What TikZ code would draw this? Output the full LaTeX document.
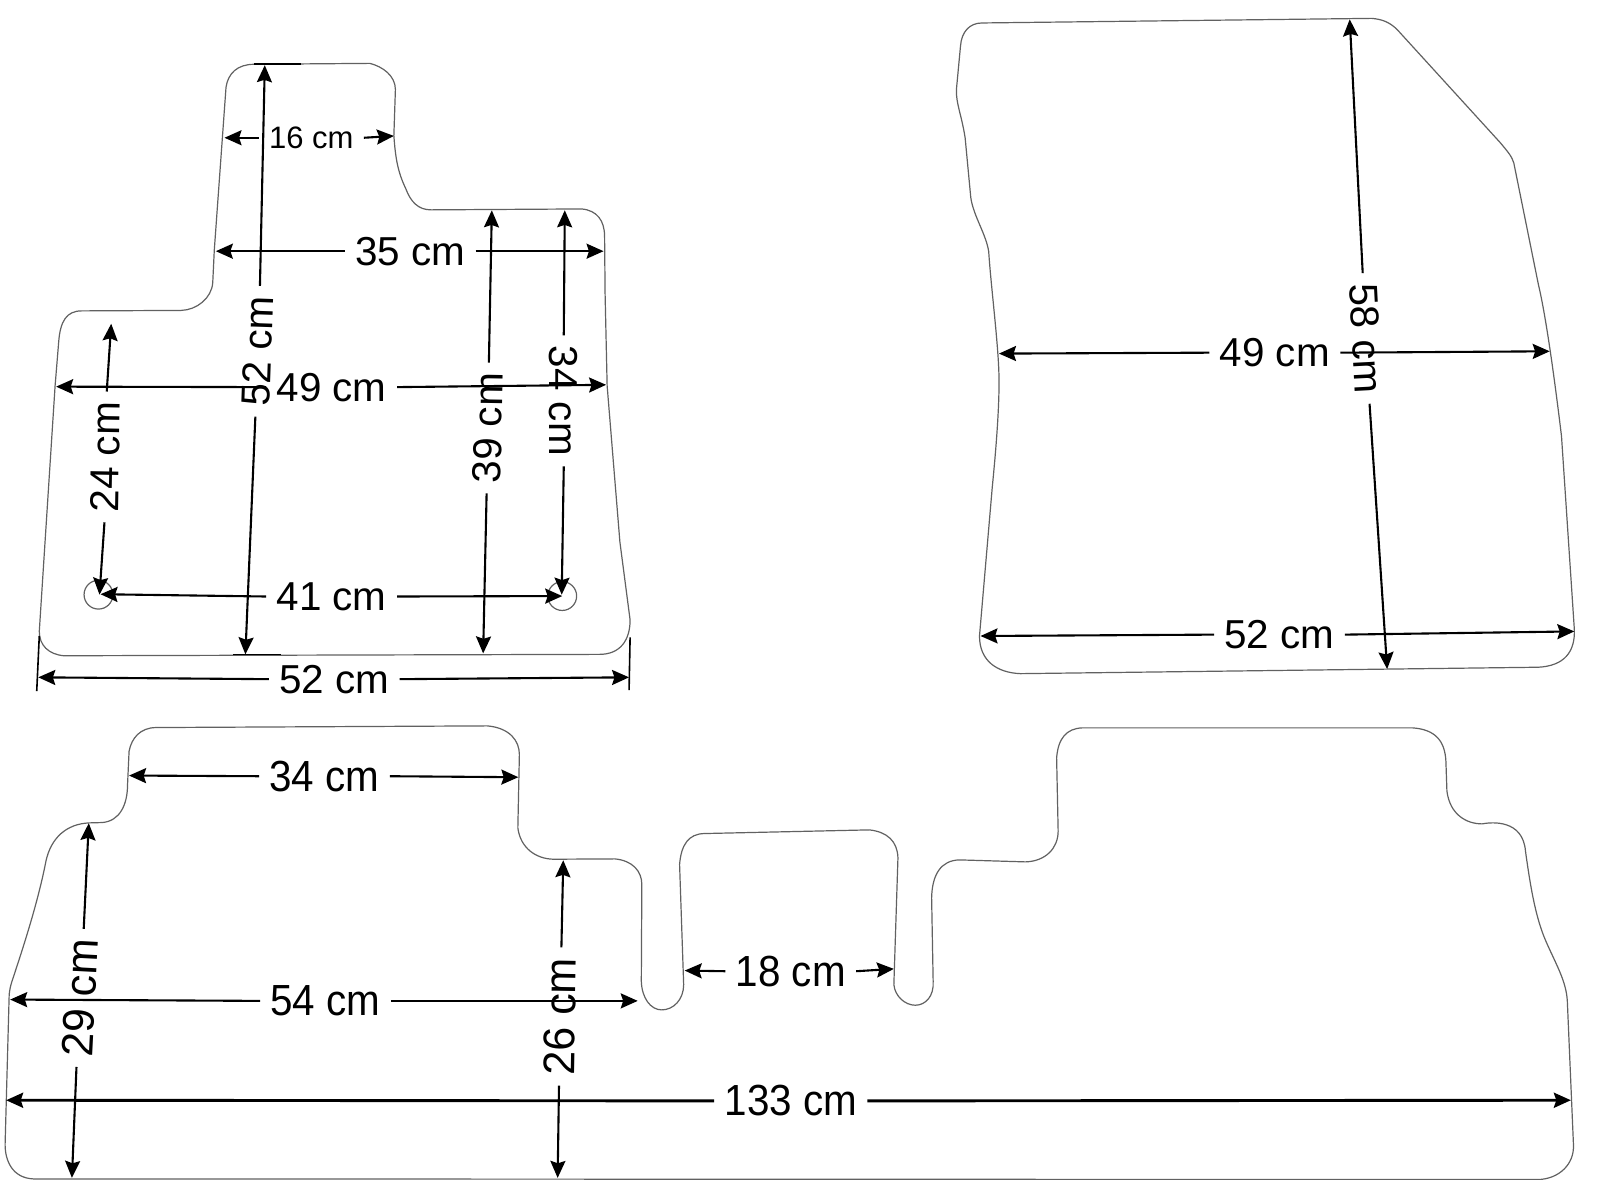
\documentclass[tikz,border=0pt]{standalone}
\usepackage{fontspec}
\usepackage{graphicx}
\setmainfont{Liberation Sans}
\usetikzlibrary{arrows.meta}
\newcommand{\flatlabel}[1]{\scalebox{1.02}[1.1]{#1}}
\newcommand{\uplabel}[1]{\scalebox{1.09}[1.12]{#1}}
\tikzset{
  outline/.style={draw=black!62,line width=0.6pt,line join=round},
  dimline/.style={draw=black,line width=1.05pt,-{Stealth[length=8.5pt,width=7.5pt,inset=1.2pt]}},
  dimbold/.style={dimline,line width=1.45pt},
  tickline/.style={draw=black,line width=0.8pt},
  dimlabel/.style={inner xsep=5pt,inner ysep=0pt,font=\fontsize{20.2}{21}\selectfont},
  lowlabel/.style={inner xsep=5pt,inner ysep=0pt,font=\fontsize{19.8}{20}\selectfont},
  smalllabel/.style={dimlabel,font=\fontsize{15.5}{16}\selectfont},
  za/.style={x=0.2551pt,y=-0.2296pt},
  zb/.style={x=0.2564pt,y=-0.2296pt,shift={(400pt,0pt)}},
  zc/.style={x=0.2551pt,y=-0.16667pt,shift={(0pt,-350.6pt)}}
}
\begin{document}
\begin{tikzpicture}[x=0.5pt,y=-0.5pt]
\useasboundingbox (0,0) rectangle (1604,1179);
% ---------- top-left mat ----------
\begin{scope}[za]
\path[outline] (498,140) -- (725,138) .. controls (750,145) and (775,165) .. (775,195)
  -- (772,295) .. controls (775,345) and (780,375) .. (795,410)
  .. controls (805,440) and (820,457) .. (845,457) -- (1140,455)
  .. controls (1170,458) and (1185,480) .. (1185,515) -- (1186,640) -- (1190,840) -- (1215,1180) -- (1235,1350)
  .. controls (1235,1395) and (1215,1425) .. (1175,1425) -- (125,1428)
  .. controls (95,1425) and (77,1405) .. (77,1375) -- (108,840) -- (115,745)
  .. controls (118,700) and (130,677) .. (160,677) -- (355,676)
  .. controls (385,675) and (415,650) .. (417,615) -- (420,545) -- (443,190)
  .. controls (447,160) and (465,140) .. (498,140) -- cycle;
\path[outline] (193,1295) circle[radius=7.2pt];
\path[outline] (1102,1298) circle[radius=7.2pt];
\node[dimlabel,rotate=88] (tlh) at (505,765) {52 cm};
\node[smalllabel] (tls) at (610,300) {16 cm};
\node[dimlabel] (tlm) at (804,547) {35 cm};
\node[dimlabel,rotate=89] (tlr) at (956,932) {39 cm};
\node[dimlabel,rotate=-90] (tlq) at (1105,873) {34 cm};
\node[dimlabel] (tlw) at (650,843) {49 cm};
\node[dimlabel,rotate=89] (tlp) at (207,995) {24 cm};
\node[dimlabel] (tlb) at (650,1299) {41 cm};
\node[dimlabel] (tlf) at (655,1479) {52 cm};
\coordinate (a1) at (519,142); \coordinate (a2) at (481,1425);
\coordinate (a3) at (440,300); \coordinate (a4) at (772,296);
\coordinate (a5) at (423,547); \coordinate (a6) at (1183,547);
\coordinate (a7) at (964,458); \coordinate (a8) at (947,1423);
\coordinate (a9) at (1107,458); \coordinate (a10) at (1101,1295);
\coordinate (a11) at (110,842); \coordinate (a12) at (1188,838);
\coordinate (a13) at (218,705); \coordinate (a14) at (195,1295);
\coordinate (a15) at (197,1294); \coordinate (a16) at (1102,1298);
\coordinate (a17) at (75,1475); \coordinate (a18) at (1233,1475);
\coordinate (t1) at (498,140); \coordinate (t2) at (590,140);
\coordinate (t3) at (457,1425); \coordinate (t4) at (550,1425);
\coordinate (t5) at (77,1385); \coordinate (t6) at (72,1505);
\coordinate (t7) at (1235,1388); \coordinate (t8) at (1233,1503);
\end{scope}
\path[dimline] (tlh.east) -- (a1);
\path[dimline] (tlh.west) -- (a2);
\path[dimline] (tls.west) -- (a3);
\path[dimline] (tls.east) -- (a4);
\path[dimline] (tlm.west) -- (a5);
\path[dimline] (tlm.east) -- (a6);
\path[dimline] (tlr.east) -- (a7);
\path[dimline] (tlr.west) -- (a8);
\path[dimline] (tlq.west) -- (a9);
\path[dimline] (tlq.east) -- (a10);
\path[dimline] (tlw.west) -- (a11);
\path[dimline] (tlw.east) -- (a12);
\path[dimline] (tlp.east) -- (a13);
\path[dimline] (tlp.west) -- (a14);
\path[dimline] (tlb.west) -- (a15);
\path[dimline] (tlb.east) -- (a16);
\path[dimline] (tlf.west) -- (a17);
\path[dimline] (tlf.east) -- (a18);
\path[tickline] (t1) -- (t2);
\path[tickline] (t3) -- (t4);
\path[tickline] (t5) -- (t6);
\path[tickline] (t7) -- (t8);
% ---------- top-right mat ----------
\begin{scope}[zb]
\path[outline] (355,50) -- (1115,40) .. controls (1135,42) and (1150,48) .. (1165,65)
  -- (1365,310) .. controls (1380,330) and (1388,340) .. (1392,355)
  -- (1440,620) .. controls (1455,690) and (1472,830) .. (1485,950) -- (1510,1370)
  .. controls (1512,1420) and (1490,1450) .. (1440,1453) -- (430,1467)
  .. controls (385,1465) and (350,1440) .. (350,1385)
  -- (375,1060) .. controls (383,970) and (389,880) .. (388,820)
  .. controls (387,750) and (372,620) .. (368,548)
  .. controls (363,510) and (338,470) .. (333,430)
  -- (322,300) .. controls (315,250) and (304,225) .. (305,195)
  -- (313,100) .. controls (315,70) and (330,50) .. (355,50) -- cycle;
\node[dimlabel,rotate=-87] (trh) at (1104,737) {58 cm};
\node[dimlabel] (trm) at (926,768) {49 cm};
\node[dimlabel] (trb) at (935,1382) {52 cm};
\coordinate (b1) at (1072,42); \coordinate (b2) at (1145,1457);
\coordinate (b3) at (388,770); \coordinate (b4) at (1462,765);
\coordinate (b5) at (352,1385); \coordinate (b6) at (1510,1375);
\end{scope}
\path[dimline] (trh.west) -- (b1);
\path[dimline] (trh.east) -- (b2);
\path[dimline] (trm.west) -- (b3);
\path[dimline] (trm.east) -- (b4);
\path[dimline] (trb.west) -- (b5);
\path[dimline] (trb.east) -- (b6);
% ---------- bottom mat ----------
\begin{scope}[zc]
\path[outline] (65,1433) .. controls (25,1430) and (10,1380) .. (10,1330)
  -- (18,880) .. controls (20,850) and (25,835) .. (30,810)
  .. controls (45,740) and (75,600) .. (90,480) .. controls (100,410) and (130,368) .. (175,365)
  -- (200,364) .. controls (235,360) and (250,310) .. (250,250)
  -- (253,150) .. controls (258,110) and (275,80) .. (305,79)
  -- (955,74) .. controls (1000,80) and (1018,120) .. (1018,160)
  -- (1015,380) .. controls (1020,440) and (1050,473) .. (1085,474)
  -- (1205,473) .. controls (1240,478) and (1258,510) .. (1258,550)
  -- (1257,840) .. controls (1258,890) and (1275,926) .. (1297,926)
  .. controls (1320,926) and (1340,895) .. (1340,850)
  -- (1332,490) .. controls (1335,430) and (1350,398) .. (1380,397)
  -- (1704,386) .. controls (1739,392) and (1759,420) .. (1760,470)
  -- (1752,850) .. controls (1754,885) and (1774,912) .. (1794,912)
  .. controls (1814,912) and (1831,885) .. (1829,840)
  -- (1826,590) .. controls (1827,520) and (1844,478) .. (1880,476)
  -- (2010,482) .. controls (2050,480) and (2074,440) .. (2074,390)
  -- (2071,170) .. controls (2074,110) and (2091,82) .. (2121,80)
  -- (2769,80) .. controls (2814,85) and (2832,120) .. (2834,180)
  -- (2836,270) .. controls (2842,340) and (2874,368) .. (2905,368)
  .. controls (2925,362) and (2985,355) .. (2990,450)
  .. controls (3000,560) and (3010,650) .. (3030,720) .. controls (3050,790) and (3070,840) .. (3072,900)
  -- (3084,1330)
  .. controls (3086,1390) and (3055,1433) .. (3015,1435) -- cycle;
\node[lowlabel] (bma) at (636,225) {\flatlabel{34 cm}};
\node[lowlabel,rotate=87] (bmb) at (157,890) {\uplabel{29 cm}};
\node[lowlabel,rotate=89] (bmc) at (1098,946) {\uplabel{26 cm}};
\node[lowlabel] (bmd) at (638,899) {\flatlabel{54 cm}};
\node[lowlabel] (bme) at (1550,810) {\flatlabel{18 cm}};
\node[lowlabel] (bmf) at (1550,1199) {\flatlabel{133 cm}};
\coordinate (c1) at (253,223); \coordinate (c2) at (1016,228);
\coordinate (c3) at (174,366); \coordinate (c4) at (141,1430);
\coordinate (c5) at (1104,477); \coordinate (c6) at (1093,1430);
\coordinate (c7) at (20,895); \coordinate (c8) at (1250,899);
\coordinate (c9) at (1342,808); \coordinate (c10) at (1752,803);
\coordinate (c11) at (12,1197); \coordinate (c12) at (3079,1197);
\end{scope}
\path[dimline] (bma.west) -- (c1);
\path[dimline] (bma.east) -- (c2);
\path[dimline] (bmb.east) -- (c3);
\path[dimline] (bmb.west) -- (c4);
\path[dimline] (bmc.east) -- (c5);
\path[dimline] (bmc.west) -- (c6);
\path[dimline] (bmd.west) -- (c7);
\path[dimline] (bmd.east) -- (c8);
\path[dimline] (bme.west) -- (c9);
\path[dimline] (bme.east) -- (c10);
\path[dimbold] (bmf.west) -- (c11);
\path[dimbold] (bmf.east) -- (c12);
\end{tikzpicture}
\end{document}
